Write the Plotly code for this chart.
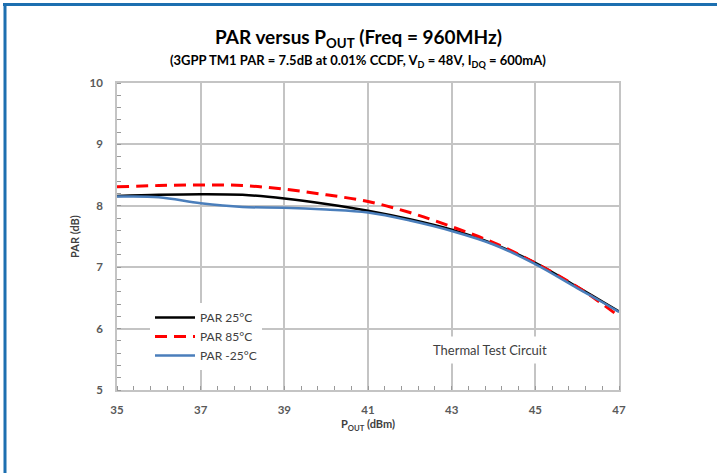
import plotly.graph_objects as go

# Data
pout = [35, 36, 37, 38, 39, 40, 41, 42, 43, 44, 45, 46, 46.5, 47]
par_25 = [8.16, 8.18, 8.19, 8.18, 8.12, 8.03, 7.92, 7.78, 7.61, 7.38, 7.07, 6.68, 6.48, 6.28]
par_85 = [8.31, 8.33, 8.34, 8.33, 8.27, 8.18, 8.07, 7.89, 7.66, 7.40, 7.07, 6.68, 6.45, 6.20]
par_m25 = [8.15, 8.14, 8.04, 7.98, 7.97, 7.94, 7.89, 7.76, 7.59, 7.37, 7.05, 6.66, 6.47, 6.27]

names = ["PAR 25°C", "PAR 85°C", "PAR -25°C"]
x_ticks = [35, 37, 39, 41, 43, 45, 47]
y_ticks = [5, 6, 7, 8, 9, 10]

FONT = "Lato, 'Open Sans', sans-serif"
GRID = "#c4c4c4"
TICKC = "#595959"

W, H = 717, 473
ML, MR, MT, MB = 117, 98, 83, 83
pw, ph = W - ML - MR, H - MT - MB

def px_x(p):
    return (p - ML) / pw

def px_y(p):
    return (H - MB - p) / ph

fig = go.Figure()
fig.add_trace(go.Scatter(x=pout, y=par_25, mode="lines", name=names[0],
                         line=dict(color="#000000", width=2.5, shape="spline")))
fig.add_trace(go.Scatter(x=pout, y=par_85, mode="lines", name=names[1],
                         line=dict(color="#ff0000", width=3, dash="12px,7px", shape="spline")))
fig.add_trace(go.Scatter(x=pout, y=par_m25, mode="lines", name=names[2],
                         line=dict(color="#4a7ebb", width=2.5, shape="spline")))

fig.update_layout(
    width=W, height=H,
    margin=dict(l=ML, r=MR, t=MT, b=MB),
    paper_bgcolor="white", plot_bgcolor="white",
    font=dict(family=FONT),
    showlegend=True,
    legend=dict(x=px_x(150), y=px_y(303), xanchor="left", yanchor="top",
                bgcolor="white", borderwidth=0,
                font=dict(family=FONT, size=12, color="#404040"),
                itemwidth=40),
    annotations=[
        dict(text="<b>PAR versus P<sub>OUT</sub> (Freq = 960MHz)</b>",
             xref="paper", yref="paper", x=px_x(358), y=px_y(38),
             xanchor="center", yanchor="middle", showarrow=False,
             font=dict(family=FONT, size=19, color="#000000")),
        dict(text="<b>(3GPP TM1 PAR = 7.5dB at 0.01% CCDF, V<sub>D</sub> = 48V, I<sub>DQ</sub> = 600mA)</b>",
             xref="paper", yref="paper", x=px_x(358), y=px_y(61),
             xanchor="center", yanchor="middle", showarrow=False,
             font=dict(family=FONT, size=13, color="#000000")),
        dict(text="Thermal Test Circuit", x=43.92, y=5.65, xref="x", yref="y",
             showarrow=False, bgcolor="white", borderpad=5,
             font=dict(family=FONT, size=13, color="#404040")),
    ],
    shapes=[
        dict(type="line", xref="paper", yref="paper", x0=px_x(3), x1=px_x(W),
             y0=px_y(4.5), y1=px_y(4.5), line=dict(color="#1d6fb0", width=3)),
        dict(type="line", xref="paper", yref="paper", x0=px_x(5), x1=px_x(5),
             y0=px_y(3), y1=px_y(H), line=dict(color="#1d6fb0", width=3)),
    ],
)

fig.update_xaxes(
    range=[35, 47], tickvals=x_ticks, ticktext=[str(v) for v in x_ticks],
    showgrid=True, gridcolor=GRID, gridwidth=1.5,
    showline=True, linecolor=GRID, linewidth=1.5, mirror=True,
    zeroline=False, ticks="", ticklabelstandoff=8,
    tickfont=dict(family=FONT, size=11.5, color=TICKC, weight="bold"),
    minor=dict(dtick=0.4, tick0=35, ticks="inside", ticklen=4, tickcolor="#999999",
               tickwidth=1, showgrid=False),
    title=dict(text="<b>P<sub>OUT</sub> (dBm)</b>", standoff=6,
               font=dict(family=FONT, size=11, color="#404040")),
)
fig.update_yaxes(
    range=[5, 10], tickvals=y_ticks, ticktext=[str(v) for v in y_ticks],
    showgrid=True, gridcolor=GRID, gridwidth=1.5,
    showline=True, linecolor=GRID, linewidth=1.5, mirror=True,
    zeroline=False, ticks="", ticklabelstandoff=10,
    tickfont=dict(family=FONT, size=11.5, color=TICKC, weight="bold"),
    minor=dict(dtick=0.2, tick0=5, ticks="inside", ticklen=4, tickcolor="#999999",
               tickwidth=1, showgrid=False),
    title=dict(text="<b>PAR (dB)</b>", standoff=8,
               font=dict(family=FONT, size=11, color="#404040")),
)

fig.write_html("out.html")
